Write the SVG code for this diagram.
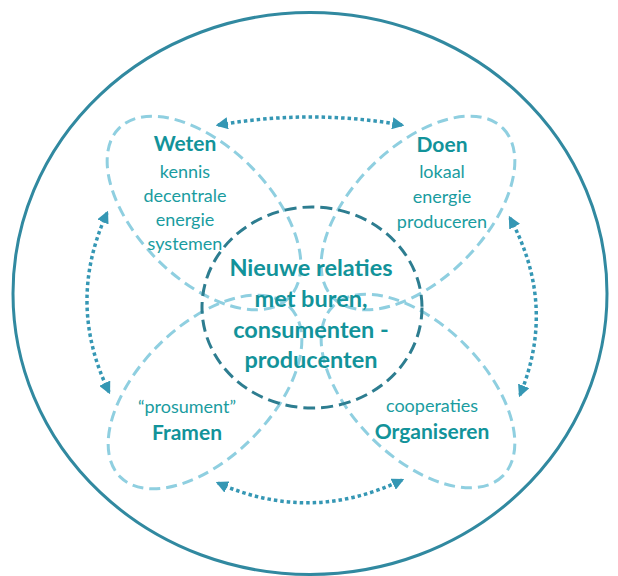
<svg xmlns="http://www.w3.org/2000/svg" width="618" height="576" viewBox="0 0 618 576">
<style>
.petal{fill:none;stroke:#8fcfe0;stroke-width:3;stroke-dasharray:11 6}
.core{fill:none;stroke:#2d7d90;stroke-width:3;stroke-dasharray:12 6}
.rel{fill:none;stroke:#3597b4;stroke-width:3.5;stroke-dasharray:3.5 3}
.t{font-family:Lato,"Liberation Sans",sans-serif;fill:#1a9ca0;text-anchor:middle}
.r{font-size:18px}
.b{font-size:21px;font-weight:bold;fill:#12939a}
.c{font-size:23.5px;font-weight:bold;fill:#12939a}
</style>
<defs>
<marker id="ah" viewBox="0 0 10 10" refX="8" refY="5" markerWidth="3.5" markerHeight="3.5" markerUnits="strokeWidth" orient="auto-start-reverse">
<path d="M0 0 L10 5 L0 10 Z" fill="#3597b4"/>
</marker>
</defs>
<rect width="618" height="576" fill="#ffffff"/>
<ellipse id="outer" cx="310" cy="293.5" rx="297" ry="281" fill="none" stroke="#3189a0" stroke-width="3"/>
<g id="weten">
<ellipse class="petal" cx="204" cy="213" rx="120" ry="66" transform="rotate(45 204 213)"/>
<text class="t b" x="185" y="151">Weten</text>
<text class="t r" x="185" y="178">kennis</text>
<text class="t r" x="185" y="202">decentrale</text>
<text class="t r" x="185" y="226">energie</text>
<text class="t r" x="185" y="250">systemen</text>
</g>
<g id="doen">
<ellipse class="petal" cx="418" cy="213" rx="120" ry="66" transform="rotate(-45 418 213)"/>
<text class="t b" x="442" y="152">Doen</text>
<text class="t r" x="442" y="178">lokaal</text>
<text class="t r" x="442" y="203">energie</text>
<text class="t r" x="442" y="228">produceren</text>
</g>
<g id="framen">
<ellipse class="petal" cx="205" cy="392" rx="120" ry="66" transform="rotate(-45 205 392)"/>
<text class="t r" x="187" y="413">“prosument”</text>
<text class="t b" x="187" y="440">Framen</text>
</g>
<g id="organiseren">
<ellipse class="petal" cx="418" cy="391" rx="120" ry="66" transform="rotate(45 418 391)"/>
<text class="t r" x="432" y="412">cooperaties</text>
<text class="t b" x="432" y="439">Organiseren</text>
</g>
<g id="center">
<ellipse class="core" cx="312" cy="307.5" rx="110" ry="100.5"/>
<text class="t c" x="311" y="276">Nieuwe relaties</text>
<text class="t c" x="311" y="307">met buren,</text>
<text class="t c" x="311" y="338">consumenten -</text>
<text class="t c" x="311" y="368">producenten</text>
</g>
<g id="connectors">
<path class="rel" d="M218 125 Q311 109 402 125" marker-start="url(#ah)" marker-end="url(#ah)"/>
<path class="rel" d="M218 483 Q310 524 402 480" marker-start="url(#ah)" marker-end="url(#ah)"/>
<path class="rel" d="M107 213 Q66 303 109 392" marker-start="url(#ah)" marker-end="url(#ah)"/>
<path class="rel" d="M510 218 Q557 305 520 395" marker-start="url(#ah)" marker-end="url(#ah)"/>
</g>
</svg>
